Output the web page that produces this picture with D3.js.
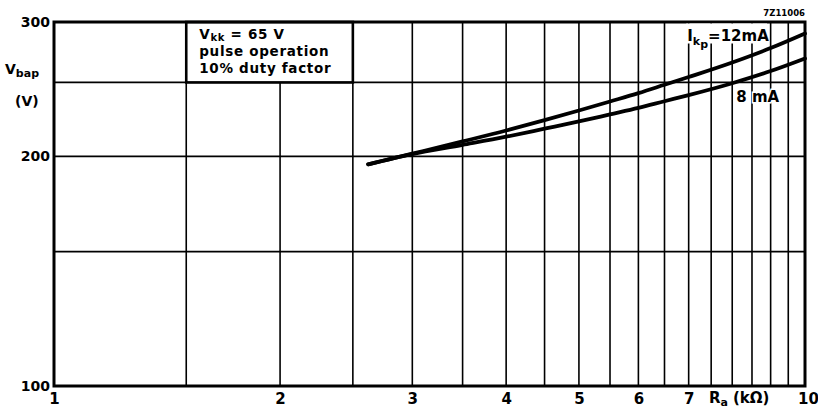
<!DOCTYPE html>
<html>
<head>
<meta charset="utf-8">
<script src="https://cdn.jsdelivr.net/npm/d3@7"></script>
<style>
  html, body { margin: 0; padding: 0; background: #fff; }
  svg { display: block; font-family: "DejaVu Sans", sans-serif; font-weight: bold; }
</style>
</head>
<body>
<div id="chart"></div>
<script>
// R_a in kOhm
const resistance = [2.62, 3, 3.5, 4, 4.5, 5, 5.5, 6, 6.5, 7, 8, 9, 10];
// V_bap (V) for I_kp = 12 mA and 8 mA
const vbap12 = [195.2, 201.6, 209.2, 216.2, 223.1, 229.7, 236.0, 242.0, 248.2, 254.1, 265.5, 277.3, 289.8];
const vbap8 = [195.2, 201.3, 207.0, 212.2, 217.4, 222.2, 227.0, 231.5, 236.2, 240.6, 249.4, 258.7, 268.7];

const xGrid = [1.5, 2, 2.5, 3, 3.5, 4, 4.5, 5, 5.5, 6, 6.5, 7, 7.5, 8, 8.5, 9, 9.5];
const yGrid = [150, 200, 250];
const xTicks = [1, 2, 3, 4, 5, 6, 7, 10];
const yTicks = [100, 200, 300];

const width = 818, height = 409;
const margin = { top: 22, right: 13, bottom: 23, left: 54 };

const svg = d3.select('#chart').append('svg')
  .attr('width', width)
  .attr('height', height)
  .attr('viewBox', `0 0 ${width} ${height}`);

const x = d3.scaleLog()
  .domain([1, 10])
  .range([margin.left, width - margin.right]);

const y = d3.scaleLog()
  .domain([100, 300])
  .range([height - margin.bottom, margin.top]);

// Grid
svg.append('g')
  .selectAll('line')
  .data(xGrid)
  .join('line')
  .attr('x1', d => x(d)).attr('x2', d => x(d))
  .attr('y1', y(100)).attr('y2', y(300))
  .attr('stroke', '#000')
  .attr('stroke-width', 1.6);

svg.append('g')
  .selectAll('line')
  .data(yGrid)
  .join('line')
  .attr('x1', x(1)).attr('x2', x(10))
  .attr('y1', d => y(d)).attr('y2', d => y(d))
  .attr('stroke', '#000')
  .attr('stroke-width', 1.6);

// Conditions box (covers the 1.5..2.5 / 250..300 cell)
svg.append('rect')
  .attr('x', x(1.5)).attr('y', y(300))
  .attr('width', x(2.5) - x(1.5))
  .attr('height', y(250) - y(300))
  .attr('fill', '#fff')
  .attr('stroke', '#000')
  .attr('stroke-width', 2.6);

const box = svg.append('text')
  .attr('font-size', 13.5)
  .attr('letter-spacing', 0.7);
const l1 = box.append('tspan').attr('x', x(1.5) + 13).attr('y', y(300) + 17);
l1.append('tspan').text('V');
l1.append('tspan').attr('font-size', 10).attr('dy', 2).text('kk');
l1.append('tspan').attr('dy', -2).text(' = 65 V');
box.append('tspan').attr('x', x(1.5) + 13).attr('y', y(300) + 34).text('pulse operation');
box.append('tspan').attr('x', x(1.5) + 13).attr('y', y(300) + 51).text('10% duty factor');

// Frame
svg.append('rect')
  .attr('x', x(1)).attr('y', y(300))
  .attr('width', x(10) - x(1))
  .attr('height', y(100) - y(300))
  .attr('fill', 'none')
  .attr('stroke', '#000')
  .attr('stroke-width', 3);

// Curves
const line = d3.line()
  .x((d, i) => x(resistance[i]))
  .y(d => y(d))
  .curve(d3.curveMonotoneX);

[vbap12, vbap8].forEach(series => {
  svg.append('path')
    .attr('d', line(series))
    .attr('fill', 'none')
    .attr('stroke', '#000')
    .attr('stroke-width', 3.8)
    .attr('stroke-linecap', 'round');
});

// Curve labels
svg.append('rect')
  .attr('x', x(6.95)).attr('y', y(300) + 1.5)
  .attr('width', x(8.9) - x(6.95))
  .attr('height', 20)
  .attr('fill', '#fff');

const lab12 = svg.append('text')
  .attr('x', x(6.97)).attr('y', y(300) + 19)
  .attr('font-size', 15);
lab12.append('tspan').text('I');
lab12.append('tspan').attr('font-size', 11).attr('dy', 4).text('k');
lab12.append('tspan').attr('font-size', 11).attr('dy', 3).text('p');
lab12.append('tspan').attr('dy', -7).text('=12mA');

svg.append('text')
  .attr('x', x(8.1)).attr('y', y(240) + 6)
  .attr('font-size', 15)
  .attr('stroke', '#fff')
  .attr('stroke-width', 3)
  .attr('paint-order', 'stroke')
  .text('8 mA');

// Axes
const xAxis = svg.append('g')
  .attr('transform', `translate(0,${y(100)})`)
  .call(d3.axisBottom(x).tickValues(xTicks).tickSize(0).tickPadding(7).tickFormat(d3.format('d')));
xAxis.select('.domain').remove();
xAxis.selectAll('text')
  .attr('font-size', 15).attr('font-family', 'DejaVu Sans').attr('font-weight', 'bold');
xAxis.selectAll('.tick')
  .filter(d => d === 10)
  .select('text').attr('dx', 3);

const yAxis = svg.append('g')
  .attr('transform', `translate(${x(1)},0)`)
  .call(d3.axisLeft(y).tickValues(yTicks).tickSize(0).tickPadding(4).tickFormat(d3.format('d')));
yAxis.select('.domain').remove();
yAxis.selectAll('text')
  .attr('font-size', 14).attr('font-family', 'DejaVu Sans').attr('font-weight', 'bold');

// Axis titles
const yt = svg.append('text')
  .attr('x', 5).attr('y', 74)
  .attr('font-size', 14);
yt.append('tspan').text('V');
yt.append('tspan').attr('font-size', 11).attr('dy', 3).text('bap');
svg.append('text')
  .attr('x', 15).attr('y', 106)
  .attr('font-size', 14)
  .text('(V)');

const xt = svg.append('text')
  .attr('x', x(7.45)).attr('y', height - 6)
  .attr('font-size', 15);
xt.append('tspan').text('R');
xt.append('tspan').attr('font-size', 11).attr('dy', 3).text('a');
xt.append('tspan').attr('dy', -3).attr('dx', 5).text('(kΩ)');

svg.append('text')
  .attr('x', x(10)).attr('y', y(300) - 6)
  .attr('text-anchor', 'end')
  .attr('font-size', 8.5)
  .text('7Z11006');
</script>
</body>
</html>
